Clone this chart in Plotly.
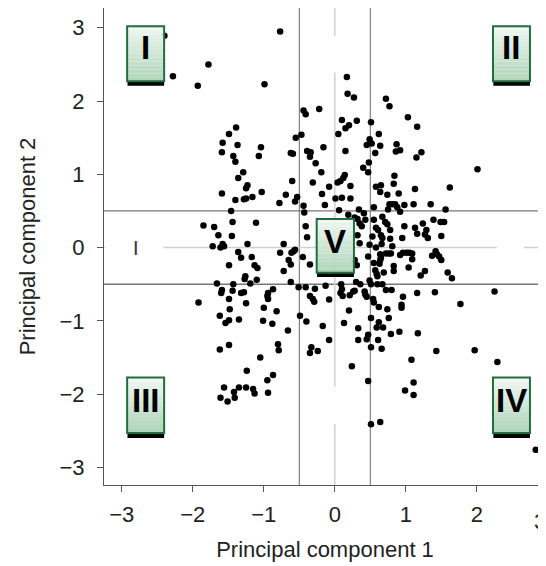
import plotly.graph_objects as go

# ---------------- data ----------------
pc1 = [
    -2.40, -2.28, -1.93, -1.78, -0.99, -0.77, 0.17, 0.18, 0.27, -0.44, -0.41, -0.22, 0.10, 0.20, 0.15, 0.31, 0.05,
    -1.39, -1.49, -1.58, -1.37, -1.59, -1.43, -1.40, -1.04, -1.07, -0.55, -0.47, -0.62, -0.59, -0.39, -0.34, -0.35,
    -0.16, -0.27, 0.15,
    0.72, 0.77, 1.03, 1.16, 0.51, 0.62, 0.49, 0.45, 0.52, 0.64, 0.57, 0.87, 0.86, 0.92, 1.22, 1.15, 0.48, 0.40, 2.01,
    -1.29, -1.36, -1.23, -1.25, -1.03, -1.59, -1.40, -1.28, -1.25, -1.16, -0.60, -0.69, -0.78, -0.56, -0.53, -0.44,
    -0.43, -0.31, -0.19, -0.18, -0.08, 0.04, 0.08, 0.12, 0.14, 0.22, 0.01, 0.10, 0.22, -0.14, 0.06, 0.19,
    -1.46, -1.85, -1.70, -1.44, -1.11, -1.64, -1.45, -1.72, -1.61, -1.58, -1.56, -1.23, -1.36, -1.32, -1.17, -1.49,
    -1.13, -1.09, -0.72, -0.77, -0.61, -0.58, -0.56, -0.65, -0.62, -0.45, -0.41, -0.39, -0.35, -0.72, -1.26, -1.27,
    -1.10, -1.19, -1.66, -1.43, -1.59, -1.60, -1.44, -1.32, -1.28, -0.94, -0.95, -0.87, -1.49, -0.94, -1.92, -1.25,
    -1.48, -1.00, -0.82, -1.35, -1.62, -0.62, -0.51, -0.41, -0.49, -0.35, -0.31, -0.29, -0.28, -0.08, -0.13, 0.09,
    0.10, 0.08, 0.11, 0.20, 0.21, 0.26,
    0.47, 0.84, 0.83, 0.58, 0.65, 0.64, 0.74, 0.90, 1.13, 1.62, 0.77, 0.81, 0.85, 0.88, 0.98, 1.11, 0.75, 0.92,
    0.55, 0.34, 0.41, 1.35, 1.56, 0.28, 0.32, 0.35, 0.38, 0.43, 0.55, 0.67, 0.71, 0.74, 0.58, 0.61, 0.78, 0.98,
    1.13, 1.16, 1.24, 1.29, 1.27, 1.31, 1.39, 1.49, 1.54, 1.50, 0.32, 0.53, 0.65, 0.67, 0.78, 0.95, 0.35, 0.49,
    0.66, 0.81, 0.58, 0.72, 0.76, 0.79, 0.92, 0.96, 1.01, 1.05, 1.09, 1.09, 0.47, 0.64, 0.65, 1.37, 1.42, 1.44,
    1.47, 1.50, 0.28, 0.31, 0.55, 0.63, 0.64, 0.57, 0.59, 0.60, 0.69, 0.83, 0.83, 1.04, 1.21, 1.27, 1.59, 1.65,
    0.30, 0.36, 0.49, 0.51, 0.60, 0.67, 0.28, 0.42, 0.43, 0.45, 0.72, 0.80, 1.16, 1.41, 2.25, 1.77, 0.96, 0.54,
    0.55, 0.94, 0.94, 0.62, 0.74, 0.51, 0.76,
    -1.54, -1.49, -1.01, -0.88, -0.66, -0.40, -0.17, 0.13, -0.08, -0.33, -0.35, -0.24, 0.24, -1.62, -1.49, -0.80,
    -0.79, -1.05, -1.24, -0.87, -0.95, -0.94, -1.56, -1.42, -1.35, -1.25, -1.15, -1.13, -1.61, -1.51, -1.41,
    0.62, 0.59, 0.68, 0.33, 0.47, 0.45, 0.33, 0.61, 0.51, 0.66, 0.79, 0.91, 1.17, 1.43, 1.97, 2.29, 1.08, 0.47,
    1.11, 0.99, 1.11, 0.51, 0.64, 2.83,
]
pc2 = [
    2.89, 2.34, 2.21, 2.50, 2.23, 2.95, 2.33, 2.10, 2.05, 1.87, 1.82, 1.89, 1.74, 1.67, 1.63, 1.73, 1.55,
    1.64, 1.55, 1.43, 1.40, 1.30, 1.25, 1.17, 1.37, 1.25, 1.50, 1.54, 1.29, 1.28, 1.32, 1.30, 1.24,
    1.37, 1.15, 1.32,
    2.03, 1.93, 1.78, 1.65, 1.71, 1.55, 1.48, 1.40, 1.42, 1.39, 1.29, 1.41, 1.31, 1.33, 1.30, 1.23, 1.16, 1.09, 1.07,
    1.03, 0.95, 0.85, 0.81, 0.76, 0.74, 0.65, 0.66, 0.67, 0.69, 0.91, 0.72, 0.61, 0.63, 0.69, 0.57,
    0.48, 0.89, 1.03, 0.73, 0.83, 0.89, 0.91, 0.95, 0.99, 0.84, 0.67, 0.68, 0.67, 0.58, 0.51, 0.45,
    0.50, 0.30, 0.28, 0.35, 0.34, 0.17, 0.16, 0.02, 0.00, 0.05, 0.02, 0.05, -0.06, -0.14, -0.13, -0.24,
    -0.24, -0.28, 0.05, -0.07, -0.07, -0.05, -0.03, -0.17, -0.23, -0.13, 0.29, 0.14, -0.23, -0.32, -0.39, -0.43,
    -0.44, -0.49, -0.49, -0.50, -0.58, -0.62, -0.59, -0.62, -0.61, -0.62, -0.66, -0.57, -0.70, -0.70, -0.75, -0.76,
    -0.84, -0.82, -0.87, -0.98, -0.93, -0.47, -0.54, -0.54, -0.93, -0.66, -0.70, -0.74, -0.56, -0.71, -0.52, -0.50,
    -0.57, -0.62, -0.66, -0.86, -0.65, -0.60,
    1.03, 0.98, 0.87, 0.83, 0.85, 0.76, 0.72, 0.74, 0.80, 0.82, 0.59, 0.59, 0.59, 0.55, 0.58, 0.59, 0.52, 0.49,
    0.55, 0.52, 0.47, 0.59, 0.52, 0.41, 0.39, 0.33, 0.29, 0.38, 0.38, 0.42, 0.35, 0.32, 0.27, 0.24, 0.24, 0.29,
    0.27, 0.19, 0.33, 0.24, 0.18, 0.13, 0.38, 0.35, 0.35, 0.16, 0.17, 0.15, 0.17, 0.13, 0.12, 0.13, 0.06, 0.04,
    0.05, 0.02, 0.00, -0.08, -0.08, -0.08, -0.10, -0.07, -0.07, -0.07, -0.08, -0.16, -0.12, -0.09, -0.14, -0.11, -0.05, -0.09,
    -0.12, -0.17, -0.17, -0.24, -0.21, -0.22, -0.17, -0.31, -0.36, -0.39, -0.34, -0.25, -0.32, -0.27, -0.38, -0.32, -0.34, -0.42,
    -0.47, -0.50, -0.45, -0.50, -0.50, -0.50, -0.59, -0.60, -0.64, -0.67, -0.58, -0.58, -0.62, -0.61, -0.60, -0.77, -0.67, -0.70,
    -0.75, -0.78, -0.82, -0.81, -0.84, -0.96, -0.96,
    -1.03, -0.99, -1.00, -1.04, -1.13, -1.01, -1.07, -1.03, -1.26, -1.36, -1.44, -1.41, -1.62, -1.39, -1.33, -1.32,
    -1.40, -1.50, -1.68, -1.74, -1.81, -1.98, -1.91, -1.97, -1.91, -1.91, -1.93, -1.99, -2.05, -2.10, -2.05,
    -1.02, -1.09, -1.09, -1.10, -1.19, -1.25, -1.26, -1.26, -1.36, -1.38, -1.18, -1.15, -1.17, -1.41, -1.40, -1.56, -1.53, -1.82,
    -1.84, -1.95, -2.01, -2.41, -2.38, -2.76,
]

tick_values = [-3, -2, -1, 0, 1, 2, 3]
x_title = "Principal component 1"
y_title = "Principal component 2"
quadrant_labels = ["I", "II", "III", "IV", "V"]

# ---------------- layout helpers ----------------
XR = [-3.251, 2.975]
YR = [-3.24, 3.27]
FONT = "Liberation Sans, Arial, Helvetica, sans-serif"

fig = go.Figure()
fig.add_trace(go.Scatter(
    x=pc1, y=pc2, mode="markers",
    marker=dict(color="black", size=6.5, line=dict(width=0)),
    hoverinfo="skip", showlegend=False,
))

shapes = []
# reference lines
for v in (-0.5, 0.5):
    shapes.append(dict(type="line", xref="x", yref="paper", x0=v, x1=v, y0=0, y1=1,
                       line=dict(color="#6a6a6a", width=1), layer="below"))
    shapes.append(dict(type="line", xref="paper", yref="y", x0=0, x1=1, y0=v, y1=v,
                       line=dict(color="#777777", width=1.3), layer="below"))
shapes.append(dict(type="line", xref="x", yref="paper", x0=0, x1=0, y0=0, y1=1,
                   line=dict(color="#d0d0d0", width=1.5), layer="below"))
shapes.append(dict(type="line", xref="paper", yref="y", x0=0, x1=1, y0=0, y1=0,
                   line=dict(color="#d0d0d0", width=1.5), layer="below"))
# white masks
for (a, b, c, d) in [(-0.114, 0.29, 2.39, 2.89), (-0.255, 0.29, -2.41, -1.90),
                     (-3.24, -2.415, -0.28, 0.21), (2.28, 2.665, -0.24, 0.28)]:
    shapes.append(dict(type="rect", x0=a, x1=b, y0=c, y1=d, line=dict(width=0),
                       fillcolor="white", layer="below"))

# quadrant label boxes (x0, x1, ytop, ybottom, yshadow, text_y)
boxes = [
    (-2.925, -2.404, 3.02, 2.27, 2.21, 2.737),
    (2.228, 2.749, 3.02, 2.27, 2.21, 2.737),
    (-2.925, -2.404, -1.772, -2.529, -2.60, -2.093),
    (2.228, 2.749, -1.772, -2.529, -2.60, -2.093),
    (-0.255, 0.270, 0.39, -0.342, -0.40, 0.09),
]
top_col = (238, 246, 240)
bot_col = (176, 213, 187)
N = 14
annotations = []
for (x0, x1, yt, yb, ys, ty), lab in zip(boxes, quadrant_labels):
    shapes.append(dict(type="rect", x0=x0 + 0.005, x1=x1, y0=ys, y1=yb,
                       line=dict(width=0), fillcolor="black", layer="above"))
    h = (yt - yb) / N
    for i in range(N):
        t = i / (N - 1)
        col = tuple(round(top_col[k] + (bot_col[k] - top_col[k]) * t) for k in range(3))
        shapes.append(dict(type="rect", x0=x0, x1=x1, y0=yt - (i + 1) * h, y1=yt - i * h,
                           line=dict(width=0), fillcolor="rgb(%d,%d,%d)" % col, layer="above"))
    shapes.append(dict(type="rect", x0=x0, x1=x1, y0=yb, y1=yt,
                       line=dict(color="#1f6e3c", width=2), fillcolor="rgba(0,0,0,0)", layer="above"))
    annotations.append(dict(x=(x0 + x1) / 2, y=ty, xref="x", yref="y", text=lab, showarrow=False,
                            font=dict(family="Liberation Sans Narrow, Arial Narrow, Liberation Sans, Arial",
                                      size=33, color="black", weight="bold")))

# stray glyph at the left of the zero line
annotations.append(dict(x=-2.80, y=0.0, xref="x", yref="y", text="I", showarrow=False,
                        font=dict(family=FONT, size=20, color="#333")))
# partially visible last tick label on the right edge
annotations.append(dict(x=(3 - XR[0]) / (XR[1] - XR[0]), y=-0.046, xref="paper", yref="paper",
                        text="3", showarrow=False, yanchor="top",
                        font=dict(family=FONT, size=22, color="#222")))

axis_common = dict(
    showgrid=False, zeroline=False, showline=True, linecolor="#555", linewidth=1,
    ticks="outside", ticklen=6, tickcolor="#555", tickwidth=1,
    tickvals=tick_values, tickfont=dict(family=FONT, size=22, color="#222"),
    fixedrange=True,
)

# the page body has an 8px margin, so the figure is sized/offset to compensate
fig.update_layout(
    width=538, height=558,
    margin=dict(l=96, r=0, t=0, b=81),
    paper_bgcolor="white", plot_bgcolor="white",
    xaxis=dict(range=XR, title=dict(text=x_title, font=dict(family=FONT, size=22, color="#222"), standoff=15),
               ticklabelstandoff=4, **axis_common),
    yaxis=dict(range=YR, title=dict(text=y_title, font=dict(family=FONT, size=22, color="#222"), standoff=17),
               ticklabelstandoff=8, **axis_common),
    shapes=shapes, annotations=annotations,
    showlegend=False,
)

fig.write_html("out.html")
